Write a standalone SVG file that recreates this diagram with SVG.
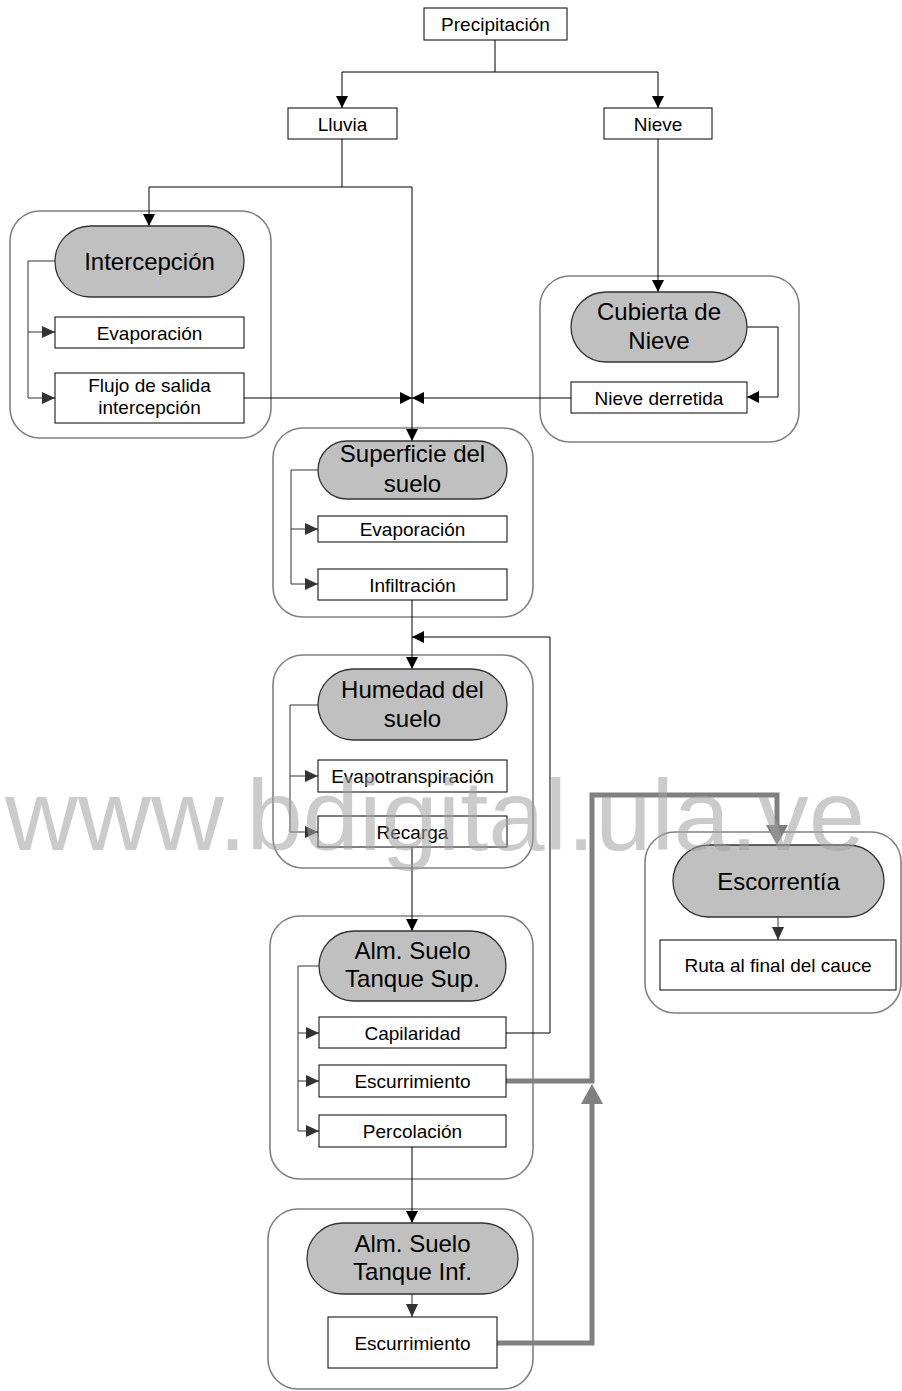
<svg xmlns="http://www.w3.org/2000/svg" width="902" height="1391" viewBox="0 0 902 1391">
<style>
.box{fill:#fff;stroke:#000;stroke-width:1}
.grp{fill:#fff;stroke:#808080;stroke-width:1.6}
.pill{fill:#c0c0c0;stroke:#333;stroke-width:1.3}
.t{font-family:"Liberation Sans",Arial,sans-serif;font-size:19px;fill:#000;text-anchor:middle}
.tp{font-family:"Liberation Sans",Arial,sans-serif;font-size:24px;fill:#000;text-anchor:middle}
.ln{fill:none;stroke:#000;stroke-width:1}
.lni{fill:none;stroke:#333;stroke-width:1}
.thick{fill:none;stroke:#808080;stroke-width:5}
.wm{font-family:"Liberation Sans",Arial,sans-serif;font-size:100px;fill:#a0a0a0;fill-opacity:0.55}
</style>
<defs>
<marker id="a" viewBox="0 0 12 12" refX="12" refY="6" markerWidth="12" markerHeight="12" markerUnits="userSpaceOnUse" orient="auto"><path d="M0,0 L12,6 L0,12 z" fill="#000"/></marker>
<marker id="ai" viewBox="0 0 13 12" refX="13" refY="6" markerWidth="13" markerHeight="12" markerUnits="userSpaceOnUse" orient="auto"><path d="M0,0 L13,6 L0,12 z" fill="#333"/></marker>
<marker id="at" viewBox="0 0 20 22" refX="0" refY="11" markerWidth="20" markerHeight="22" markerUnits="userSpaceOnUse" orient="auto"><path d="M0,0 L20,11 L0,22 z" fill="#808080"/></marker>
</defs>

<!-- containers -->
<g id="grp-intercepcion"><rect class="grp" x="10" y="211" width="261" height="227" rx="30"/></g>
<g id="grp-nieve"><rect class="grp" x="540" y="276" width="259" height="166" rx="30"/></g>
<g id="grp-superficie"><rect class="grp" x="273" y="428" width="260" height="189" rx="30"/></g>
<g id="grp-humedad"><rect class="grp" x="273" y="655" width="260" height="213" rx="30"/></g>
<g id="grp-tsup"><rect class="grp" x="270" y="916" width="263" height="263" rx="30"/></g>
<g id="grp-tinf"><rect class="grp" x="268" y="1209" width="265" height="180" rx="30"/></g>
<g id="grp-escorrentia"><rect class="grp" x="645" y="832" width="256" height="181" rx="30"/></g>

<!-- connectors -->
<g id="connectors">
<path class="ln" d="M495,40 V72"/>
<path class="ln" d="M495,72 H342 V108" marker-end="url(#a)"/>
<path class="ln" d="M495,72 H658 V108" marker-end="url(#a)"/>
<path class="ln" d="M342,139 V187"/>
<path class="ln" d="M342,187 H149 V226" marker-end="url(#a)"/>
<path class="ln" d="M342,187 H412 V441" marker-end="url(#a)"/>
<path class="ln" d="M658,139 V292" marker-end="url(#a)"/>
<path class="ln" d="M747,327 H778 V397 H747" marker-end="url(#a)"/>
<path class="ln" d="M571,398 H412" marker-end="url(#a)"/>
<path class="ln" d="M244,398 H412" marker-end="url(#a)"/>
<path class="lni" d="M55,261 H28 V398 H55" marker-end="url(#ai)"/>
<path class="lni" d="M28,332 H55" marker-end="url(#ai)"/>
<path class="lni" d="M318,470 H291 V584 H318" marker-end="url(#ai)"/>
<path class="lni" d="M291,529 H318" marker-end="url(#ai)"/>
<path class="ln" d="M412,600 V669" marker-end="url(#a)"/>
<path class="ln" d="M506,1033 H550 V637 H412" marker-end="url(#a)"/>
<path class="lni" d="M318,705 H290 V832 H318" marker-end="url(#ai)"/>
<path class="lni" d="M290,776 H318" marker-end="url(#ai)"/>
<path class="ln" d="M412,847 V931" marker-end="url(#a)"/>
<path class="lni" d="M319,966 H298 V1131 H319" marker-end="url(#ai)"/>
<path class="lni" d="M298,1033 H319" marker-end="url(#ai)"/>
<path class="lni" d="M298,1081 H319" marker-end="url(#ai)"/>
<path class="ln" d="M412,1147 V1223" marker-end="url(#a)"/>
<path class="lni" d="M412,1294 V1317" marker-end="url(#ai)"/>
<path class="lni" d="M778,917 V940" marker-end="url(#ai)"/>
<path class="thick" d="M497,1343 H592 V1104" marker-end="url(#at)"/>
<path class="thick" d="M506,1081 H592 V795 H777 V825" marker-end="url(#at)"/>
</g>

<!-- nodes -->
<g id="precipitacion"><rect class="box" x="424" y="8" width="143" height="32"/><text class="t" x="495.5" y="31">Precipitación</text></g>
<g id="lluvia"><rect class="box" x="288" y="108" width="109" height="31"/><text class="t" x="342.5" y="130.5">Lluvia</text></g>
<g id="nieve"><rect class="box" x="604" y="108" width="108" height="31"/><text class="t" x="658" y="130.5">Nieve</text></g>

<g id="intercepcion"><rect class="pill" x="55" y="226" width="189" height="71" rx="35.5"/><text class="tp" x="149.5" y="270">Intercepción</text></g>
<g id="evaporacion1"><rect class="box" x="55" y="317" width="189" height="31"/><text class="t" x="149.5" y="339.5">Evaporación</text></g>
<g id="flujo"><rect class="box" x="55" y="373" width="189" height="50"/><text class="t" x="149.5" y="392">Flujo de salida</text><text class="t" x="149.5" y="414">intercepción</text></g>

<g id="cubierta"><rect class="pill" x="571" y="292" width="176" height="70" rx="35"/><text class="tp" x="659" y="320">Cubierta de</text><text class="tp" x="659" y="349">Nieve</text></g>
<g id="nieve-derretida"><rect class="box" x="571" y="382" width="176" height="31"/><text class="t" x="659" y="404.5">Nieve derretida</text></g>

<g id="superficie"><rect class="pill" x="318" y="441" width="189" height="58" rx="29"/><text class="tp" x="412.5" y="462">Superficie del</text><text class="tp" x="412.5" y="492">suelo</text></g>
<g id="evaporacion2"><rect class="box" x="318" y="516" width="189" height="26"/><text class="t" x="412.5" y="536">Evaporación</text></g>
<g id="infiltracion"><rect class="box" x="318" y="569" width="189" height="31"/><text class="t" x="412.5" y="591.5">Infiltración</text></g>

<g id="humedad"><rect class="pill" x="318" y="669" width="189" height="71" rx="35.5"/><text class="tp" x="412.5" y="698">Humedad del</text><text class="tp" x="412.5" y="727">suelo</text></g>
<g id="evapotranspiracion"><rect class="box" x="318" y="760" width="189" height="32"/><text class="t" x="412.5" y="783">Evapotranspiración</text></g>
<g id="recarga"><rect class="box" x="318" y="816" width="189" height="31"/><text class="t" x="412.5" y="838.5">Recarga</text></g>

<g id="tanque-sup"><rect class="pill" x="319" y="931" width="187" height="70" rx="35"/><text class="tp" x="412.5" y="959">Alm. Suelo</text><text class="tp" x="412.5" y="987">Tanque Sup.</text></g>
<g id="capilaridad"><rect class="box" x="319" y="1017" width="187" height="31"/><text class="t" x="412.5" y="1039.5">Capilaridad</text></g>
<g id="escurrimiento1"><rect class="box" x="319" y="1065" width="187" height="32"/><text class="t" x="412.5" y="1088">Escurrimiento</text></g>
<g id="percolacion"><rect class="box" x="319" y="1115" width="187" height="32"/><text class="t" x="412.5" y="1138">Percolación</text></g>

<g id="tanque-inf"><rect class="pill" x="307" y="1223" width="211" height="71" rx="35.5"/><text class="tp" x="412.5" y="1252">Alm. Suelo</text><text class="tp" x="412.5" y="1280">Tanque Inf.</text></g>
<g id="escurrimiento2"><rect class="box" x="328" y="1317" width="169" height="51"/><text class="t" x="412.5" y="1349.5">Escurrimiento</text></g>

<g id="escorrentia"><rect class="pill" x="673" y="845" width="211" height="72" rx="36"/><text class="tp" x="778.5" y="889.5">Escorrentía</text></g>
<g id="ruta"><rect class="box" x="660" y="940" width="236" height="50"/><text class="t" x="778" y="972">Ruta al final del cauce</text></g>

<text class="wm" x="5" y="850" textLength="860" lengthAdjust="spacingAndGlyphs">www.bdigital.ula.ve</text>
</svg>
